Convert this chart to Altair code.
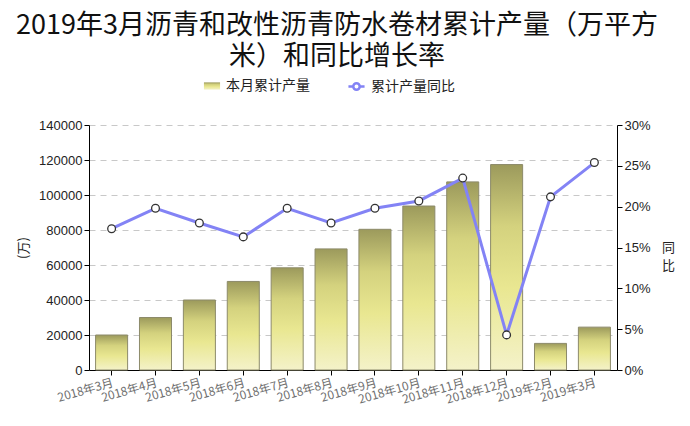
import altair as alt
import pandas as pd

months = ["2018年3月", "2018年4月", "2018年5月", "2018年6月", "2018年7月", "2018年8月",
          "2018年9月", "2018年10月", "2018年11月", "2018年12月", "2019年2月", "2019年3月"]
output = [20000, 30000, 40000, 50600, 58400, 69200, 80400, 93700, 107500, 117400, 15200, 24500]
yoy = [17.3, 19.8, 18.0, 16.3, 19.8, 18.0, 19.8, 20.7, 23.5, 4.3, 21.2, 25.4]

bar_name = "本月累计产量"
line_name = "累计产量同比"

df = pd.DataFrame({"month": months, "output": output, "yoy": yoy,
                   "s1": bar_name, "s2": line_name})

FONT_NUM = "Liberation Sans"
FONT_CJK = "Noto Sans CJK SC"

x = alt.X("month:N", sort=months, title=None,
          scale=alt.Scale(paddingInner=0.27, paddingOuter=0.15),
          axis=alt.Axis(labelAngle=-16, labelAlign="right", labelBaseline="top",
                        labelColor="#6e6e6e", labelFont=FONT_CJK, labelFontSize=12,
                        labelPadding=2, domainColor="#000000", tickColor="#000000",
                        tickSize=5, labelOverlap=False))

gradient = alt.Gradient(
    gradient="linear", x1=0, y1=0, x2=0, y2=1,
    stops=[alt.GradientStop(color="#9c9a5c", offset=0),
           alt.GradientStop(color="#d4d27e", offset=0.3),
           alt.GradientStop(color="#e9e791", offset=0.6),
           alt.GradientStop(color="#f4f2c9", offset=1)])

bars = alt.Chart(df).mark_bar(color=gradient, stroke="#8c8a6a", strokeWidth=1).encode(
    x=x,
    y=alt.Y("output:Q", title="(万)",
            scale=alt.Scale(domain=[0, 140000]),
            axis=alt.Axis(values=list(range(0, 140001, 20000)), format="d",
                          grid=True, gridDash=[6, 5], gridColor="#c8c8c8",
                          labelFont=FONT_NUM, labelFontSize=13, labelColor="#222222",
                          titleFont=FONT_CJK, titleFontSize=13, titleFontWeight="normal",
                          titleColor="#222222", titlePadding=8,
                          domainColor="#000000", tickColor="#000000", tickSize=5)),
    opacity=alt.Opacity("s1:N", scale=alt.Scale(domain=[bar_name], range=[1]),
                        legend=alt.Legend(title=None, orient="none", legendX=114, legendY=-48,
                                          symbolType="M-1,-0.45H1V0.45H-1Z",
                                          symbolFillColor="#e6e48c", symbolStrokeColor="#333333",
                                          symbolStrokeWidth=1.2, symbolSize=260,
                                          labelFont=FONT_CJK, labelFontSize=14,
                                          labelColor="#222222", labelOffset=5)),
)

line_axis = alt.Axis(values=[0, 5, 10, 15, 20, 25, 30], labelExpr="datum.value + '%'",
                     orient="right", grid=False,
                     labelFont=FONT_NUM, labelFontSize=13, labelColor="#222222",
                     title=["同", "比"], titleAngle=0, titleFont=FONT_CJK, titleFontSize=13,
                     titleFontWeight="normal", titleColor="#222222", titlePadding=0,
                     titleBaseline="middle", titleLineHeight=18,
                     domainColor="#000000", tickColor="#000000", tickSize=5)

y2 = alt.Y("yoy:Q", scale=alt.Scale(domain=[0, 30]), axis=line_axis)

line = alt.Chart(df).mark_line(strokeWidth=3).encode(
    x=x,
    y=y2,
    stroke=alt.Stroke("s2:N", scale=alt.Scale(domain=[line_name], range=["#8383f5"]),
                      legend=alt.Legend(title=None, orient="none", legendX=258, legendY=-48,
                                        symbolType="M-1,0H-0.4M0.4,0H1M0.4,0A0.4,0.4 0 1,1 -0.4,0A0.4,0.4 0 1,1 0.4,0",
                                        symbolStrokeWidth=2.5, symbolSize=260,
                                        labelFont=FONT_CJK, labelFontSize=14,
                                        labelColor="#222222", labelOffset=5)),
)

points = alt.Chart(df).mark_point(filled=True, fill="white", stroke="#333333",
                                  strokeWidth=1.3, size=60, opacity=1).encode(
    x=x,
    y=y2,
)

right = alt.layer(line, points)

chart = alt.layer(bars, right).resolve_scale(y="independent").properties(
    width=528, height=245,
    padding={"left": 8, "top": 4, "right": 0, "bottom": 0},
    title=alt.TitleParams(
        text="2019年3月沥青和改性沥青防水卷材累计产量（万平方",
        subtitle="米）和同比增长率",
        font=FONT_CJK, fontSize=27, fontWeight="normal", color="#111111",
        subtitleFont=FONT_CJK, subtitleFontSize=27, subtitleFontWeight="normal",
        subtitleColor="#111111", subtitlePadding=4,
        anchor="middle", dx=-16, offset=6),
).configure_view(stroke=None).configure_axis(labelFontWeight="normal")

chart.save("out.html", embed_options={"renderer": "svg", "actions": False})
